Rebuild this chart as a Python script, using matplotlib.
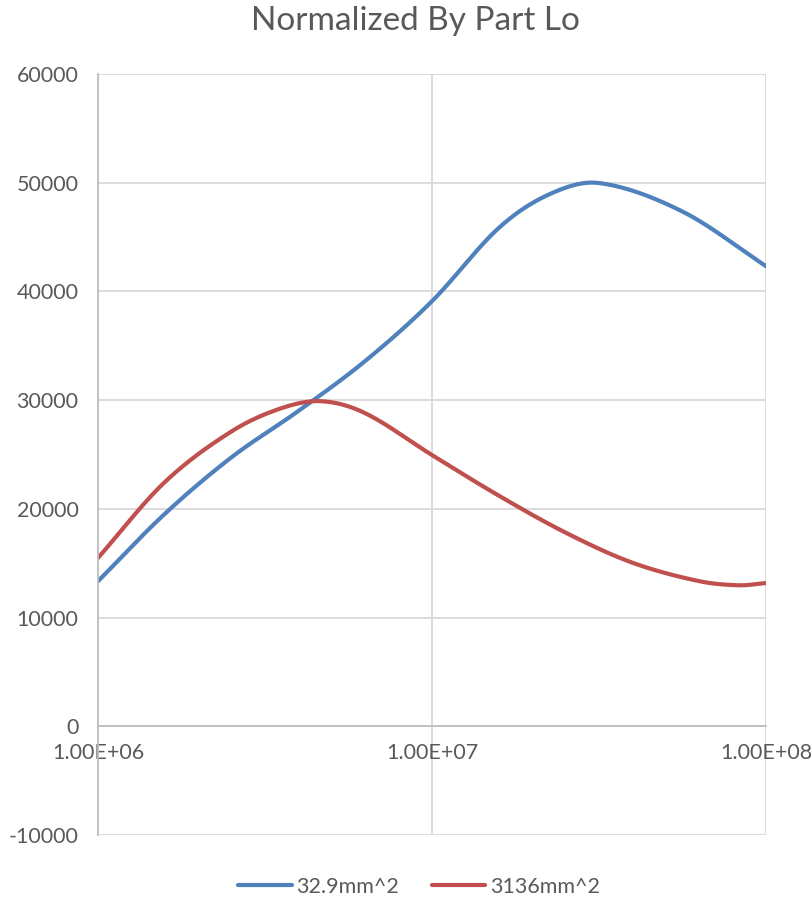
#!/usr/bin/env python3

import numpy as np
import matplotlib.pyplot as plt
from matplotlib.ticker import FixedLocator, NullLocator, FuncFormatter

# values
freq_small = [1.00e6, 1.58e6, 2.51e6, 3.98e6, 6.31e6, 1.00e7, 1.58e7, 2.24e7, 3.16e7,
              5.62e7, 1.00e8]
area_small = [13340, 19500, 24740, 29000, 33600, 39100, 45800, 48920, 49970,
              47350, 42320]

freq_large = [1.00e6, 1.58e6, 2.51e6, 3.55e6, 4.68e6, 6.31e6, 1.00e7, 1.58e7, 2.51e7,
              3.98e7, 6.31e7, 8.32e7, 1.00e8]
area_large = [15480, 22420, 27120, 29270, 29900, 28800, 24950, 21240, 17820,
              15050, 13350, 12970, 13180]

series_names = ['32.9mm^2', '3136mm^2']
x_ticks = [1e6, 1e7, 1e8]
y_ticks = [-10000, 0, 10000, 20000, 30000, 40000, 50000, 60000]


def smooth(xs, ys, n=40):
    """cubic hermite through the points in log-x space (excel style smoothed line)"""
    lx = np.log10(xs)
    ys = np.asarray(ys, dtype=float)
    m = np.empty_like(ys)
    m[1:-1] = (ys[2:] - ys[:-2]) / (lx[2:] - lx[:-2])
    m[0] = (ys[1] - ys[0]) / (lx[1] - lx[0])
    m[-1] = (ys[-1] - ys[-2]) / (lx[-1] - lx[-2])
    out_x, out_y = [], []
    t = np.linspace(0, 1, n)
    for i in range(len(lx) - 1):
        h = lx[i + 1] - lx[i]
        h00 = 2 * t ** 3 - 3 * t ** 2 + 1
        h10 = t ** 3 - 2 * t ** 2 + t
        h01 = -2 * t ** 3 + 3 * t ** 2
        h11 = t ** 3 - t ** 2
        out_x.extend(lx[i] + h * t)
        out_y.extend(h00 * ys[i] + h10 * h * m[i] + h01 * ys[i + 1] + h11 * h * m[i + 1])
    return 10 ** np.array(out_x), np.array(out_y)


plt.rcParams['font.family'] = ['Lato', 'DejaVu Sans']
plt.rcParams['axes.unicode_minus'] = False
text_col = '#595959'
grid_col = '#D9D9D9'

fig = plt.figure(figsize=(8.11, 9.0), dpi=100)
ax = fig.add_axes([0.1208, 0.0722, 0.8237, 0.8456])

bx, by = smooth(freq_small, area_small)
rx, ry = smooth(freq_large, area_large)
ax.plot(bx, by, color='#4F81BD', lw=3, label=series_names[0], solid_capstyle='round')
ax.plot(rx, ry, color='#C0504D', lw=3, label=series_names[1], solid_capstyle='round')

ax.set_xscale('log')
ax.set_xlim(1e6, 1e8)
ax.set_ylim(-10000, 60000)
ax.xaxis.set_major_locator(FixedLocator(x_ticks))
ax.xaxis.set_minor_locator(NullLocator())
ax.xaxis.set_major_formatter(FuncFormatter(lambda v, p: f'{v:.2E}'))
ax.yaxis.set_major_locator(FixedLocator(y_ticks))

ax.grid(True, which='major', color=grid_col, lw=1.3, zorder=0)
ax.set_axisbelow(True)
for s in ['top', 'right']:
    ax.spines[s].set_visible(False)
ax.spines['left'].set_color('#BFBFBF')
ax.spines['left'].set_linewidth(1.3)
ax.spines['bottom'].set_position(('data', 0))
ax.spines['bottom'].set_color('#BFBFBF')
ax.spines['bottom'].set_linewidth(1.3)
ax.tick_params(axis='both', length=0, labelsize=15.5, colors=text_col)
ax.tick_params(axis='x', pad=12)
ax.tick_params(axis='y', pad=14)

fig.text(415 / 811, 1 - 21 / 900, 'Normalized By Part Lo', fontsize=24, color=text_col,
         ha='center', va='center')

fig.legend(loc='lower center', bbox_to_anchor=(419 / 811, -0.018), ncol=2, frameon=False,
           fontsize=15.5, labelcolor=text_col, handlelength=2.5, handletextpad=0.2,
           columnspacing=1.5)

plt.savefig('out.png')
